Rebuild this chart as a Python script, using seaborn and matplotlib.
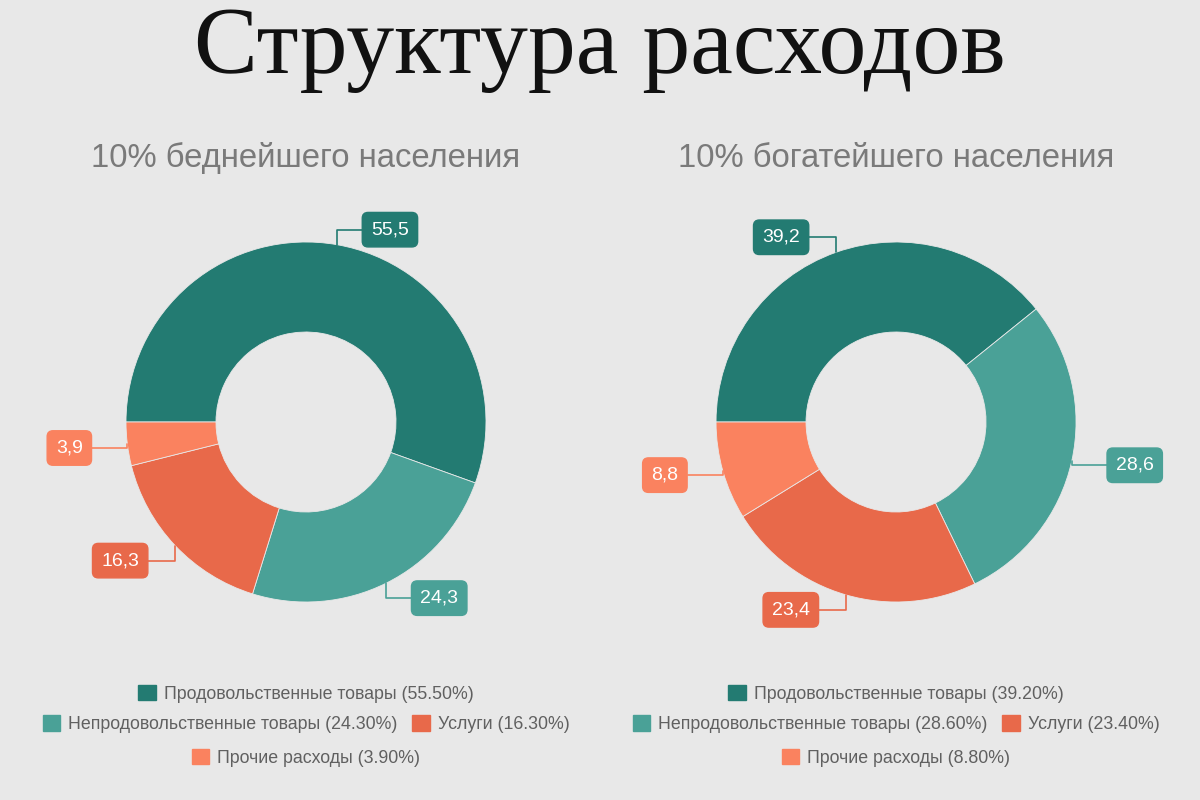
import numpy as np
import seaborn as sns
import matplotlib.pyplot as plt
from matplotlib.patches import Patch

# data
categories = ["Продовольственные товары", "Непродовольственные товары", "Услуги", "Прочие расходы"]
poor_values = [55.5, 24.3, 16.3, 3.9]
rich_values = [39.2, 28.6, 23.4, 8.8]
group_titles = ["10% беднейшего населения", "10% богатейшего населения"]
main_title = "Структура расходов"

palette = ["#237b72", "#4aa197", "#e8694a", "#fa825f"]
bg = "#e8e8e8"

sns.set_theme(style="white", rc={"figure.facecolor": bg, "axes.facecolor": bg})
plt.rcParams['font.family'] = ['Liberation Sans', 'DejaVu Sans']

fig = plt.figure(figsize=(12, 8), dpi=100)

fig.text(0.5, 0.909, main_title, ha="center", va="baseline", fontsize=69,
         family=["Liberation Serif", "DejaVu Serif"], color="#111111")


def fmt(v):
    return f"{v:.1f}".replace(".", ",")


def donut(ax, values, title, cx):
    wedges, _ = ax.pie(values, colors=palette, startangle=180, counterclock=False,
                       radius=1.0, wedgeprops=dict(width=0.5, edgecolor=bg, linewidth=0.6))
    ax.set_xlim(-1.5, 1.5)
    ax.set_ylim(-1.5, 1.5)
    ax.set_aspect("equal")
    ax.axis("off")

    # value callouts next to each slice
    for w, v, c in zip(wedges, values, palette):
        ang = np.deg2rad((w.theta1 + w.theta2) / 2)
        x, y = np.cos(ang), np.sin(ang)
        if abs(y) < 0.3:
            dx = 63 if x >= 0 else -58
            dy = -4
        else:
            dx = 53 if x >= 0 else -55
            dy = 15 * np.sign(y)
        ax.annotate(fmt(v), xy=(x, y), xytext=(dx, dy), textcoords="offset pixels",
                    ha="center", va="center", color="white", fontsize=14,
                    annotation_clip=False,
                    bbox=dict(boxstyle="round,pad=0.45,rounding_size=0.3", fc=c, ec=c),
                    arrowprops=dict(arrowstyle="-", color=c, lw=1.2,
                                    connectionstyle="angle,angleA=0,angleB=90,rad=0",
                                    shrinkA=0, shrinkB=0))

    fig.text(cx, 0.802, title, ha="center", va="center", fontsize=23.7, color="#7a7a7a")

    # legend rows like the flow layout of the original
    handles = [Patch(facecolor=c, edgecolor=c) for c in palette]
    labels = [f"{n} ({v:.2f}%)" for n, v in zip(categories, values)]
    rows = [([0], 0.133), ([1, 2], 0.095), ([3], 0.053)]
    for idx, ypos in rows:
        fig.legend([handles[i] for i in idx], [labels[i] for i in idx],
                   loc="center", bbox_to_anchor=(cx, ypos), ncol=len(idx),
                   frameon=False, fontsize=12.8, handlelength=1.0, handleheight=1.0,
                   handletextpad=0.45, columnspacing=0.8, labelcolor="#606060")


ax1 = fig.add_axes([0.03, 0.135, 0.45, 0.675])
donut(ax1, poor_values, group_titles[0], 306 / 1200)

ax2 = fig.add_axes([0.5217, 0.135, 0.45, 0.675])
donut(ax2, rich_values, group_titles[1], 896 / 1200)

fig.savefig("out.png", dpi=100, facecolor=bg)
